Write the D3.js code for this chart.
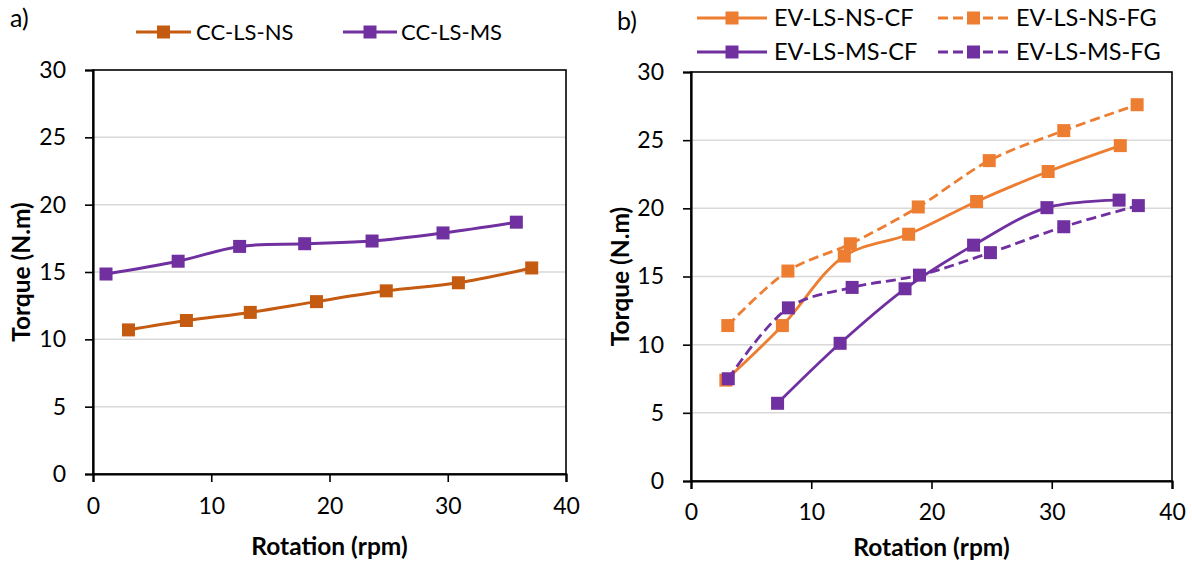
<!DOCTYPE html>
<html><head><meta charset="utf-8">
<script src="https://cdn.jsdelivr.net/npm/d3@7"></script>
<style>
html,body{margin:0;padding:0;background:#fff;}
svg{display:block;font-family:Lato,"Open Sans",sans-serif;}
</style></head>
<body>
<svg id="chart" width="1192" height="562"></svg>
<script>
// ---- data ----
const xTicks = [0, 10, 20, 30, 40];
const yTicks = [0, 5, 10, 15, 20, 25, 30];

// panel a)
const ccNS_x = [3.0, 7.9, 13.3, 18.9, 24.8, 30.9, 37.1];
const ccNS_y = [10.7, 11.4, 12.0, 12.8, 13.6, 14.2, 15.3];
const ccMS_x = [1.1, 7.2, 12.4, 17.9, 23.6, 29.6, 35.8];
const ccMS_y = [14.85, 15.8, 16.9, 17.1, 17.3, 17.9, 18.7];

// panel b)
const evNSCF_x = [2.9, 7.6, 12.75, 18.1, 23.75, 29.7, 35.7];
const evNSCF_y = [7.4, 11.4, 16.5, 18.1, 20.5, 22.7, 24.6];
const evNSFG_x = [3.06, 8.06, 13.25, 18.9, 24.8, 31.0, 37.1];
const evNSFG_y = [11.4, 15.4, 17.4, 20.1, 23.5, 25.7, 27.6];
const evMSCF_x = [7.2, 12.4, 17.8, 23.5, 29.6, 35.6];
const evMSCF_y = [5.7, 10.1, 14.1, 17.3, 20.05, 20.6];
const evMSFG_x = [3.1, 8.1, 13.4, 19.0, 24.9, 31.0, 37.2];
const evMSFG_y = [7.5, 12.7, 14.2, 15.1, 16.75, 18.65, 20.2];

const zip = (xs, ys) => xs.map((x, i) => ({x, y: ys[i]}));

const svg = d3.select("#chart");

function panel(cfg) {
  const x = d3.scaleLinear().domain([0, 40]).range([cfg.x0, cfg.x1]);
  const y = d3.scaleLinear().domain([0, 30]).range([cfg.y0, cfg.y1]);
  const g = svg.append("g");

  // gridlines
  g.selectAll("line.grid").data(yTicks.filter(d => d > 0 && d < 30)).enter()
    .append("line").attr("class", "grid")
    .attr("x1", cfg.x0).attr("x2", cfg.x1)
    .attr("y1", d => y(d)).attr("y2", d => y(d))
    .attr("stroke", "#D9D9D9").attr("stroke-width", 1.5);

  // border box
  g.append("rect").attr("x", cfg.x0).attr("y", cfg.y1)
    .attr("width", cfg.x1 - cfg.x0).attr("height", cfg.y0 - cfg.y1)
    .attr("fill", "none").attr("stroke", "#000").attr("stroke-width", 1.6);

  // axes
  const yAxis = d3.axisLeft(y).tickValues(yTicks).tickSize(8).tickPadding(19).tickFormat(d3.format("d"));
  const xAxis = d3.axisBottom(x).tickValues(xTicks).tickSize(8).tickPadding(cfg.xPad).tickFormat(d3.format("d"));
  const ya = g.append("g").attr("transform", `translate(${cfg.x0},0)`).call(yAxis);
  const xa = g.append("g").attr("transform", `translate(0,${cfg.y0})`).call(xAxis);
  [ya, xa].forEach(a => {
    a.select(".domain").attr("stroke", "#000").attr("stroke-width", 2.2);
    a.selectAll(".tick line").attr("stroke", "#000").attr("stroke-width", 1.6);
    a.selectAll(".tick text").attr("font-size", 23).attr("fill", "#000")
      .attr("font-family", "Lato, sans-serif");
  });

  // axis titles
  g.append("text").attr("x", (cfg.x0 + cfg.x1) / 2).attr("y", cfg.xTitleY)
    .attr("text-anchor", "middle").attr("font-size", 24.5).attr("font-weight", "bold")
    .text("Rotation (rpm)");
  g.append("text")
    .attr("transform", `translate(${cfg.yTitleX},${(cfg.y0 + cfg.y1) / 2}) rotate(-90)`)
    .attr("text-anchor", "middle").attr("font-size", 24.5).attr("font-weight", "bold")
    .text("Torque (N.m)");

  // panel label
  g.append("text").attr("x", cfg.labX).attr("y", cfg.labY).attr("font-size", 25).text(cfg.label);

  // series
  const line = d3.line().x(d => x(d.x)).y(d => y(d.y)).curve(d3.curveCatmullRom.alpha(0.5));
  cfg.series.forEach(s => {
    const data = zip(s.xs, s.ys);
    g.append("path").datum(data).attr("d", line).attr("fill", "none")
      .attr("stroke", s.color).attr("stroke-width", cfg.lw)
      .attr("stroke-dasharray", s.dash ? "10,5" : null);
    g.selectAll(null).data(data).enter().append("rect")
      .attr("x", d => x(d.x) - cfg.ms / 2).attr("y", d => y(d.y) - cfg.ms / 2)
      .attr("width", cfg.ms).attr("height", cfg.ms).attr("fill", s.color);
  });

  // legend
  cfg.legend.forEach((it, i) => {
    const s = cfg.series[i];
    const lg = g.append("g");
    lg.append("line").attr("x1", it.lx0).attr("x2", it.lx1).attr("y1", it.y).attr("y2", it.y)
      .attr("stroke", s.color).attr("stroke-width", cfg.lw)
      .attr("stroke-dasharray", s.dash ? "10,5" : null);
    const mx = (it.lx0 + it.lx1) / 2;
    lg.append("rect").attr("x", mx - 6.5).attr("y", it.y - 6.5).attr("width", 13).attr("height", 13)
      .attr("fill", s.color);
    lg.append("text").attr("x", it.tx).attr("y", it.y).attr("dy", "0.35em")
      .attr("font-size", cfg.legFs).text(s.name);
  });
}

panel({
  x0: 93, x1: 566, y0: 474, y1: 70, lw: 3, ms: 13, xPad: 16, legFs: 22,
  xTitleY: 555, yTitleX: 30, label: "a)", labX: 10, labY: 27,
  series: [
    {name: "CC-LS-NS", xs: ccNS_x, ys: ccNS_y, color: "#C55A11"},
    {name: "CC-LS-MS", xs: ccMS_x, ys: ccMS_y, color: "#7030A0"}
  ],
  legend: [
    {lx0: 136, lx1: 191, y: 32, tx: 196},
    {lx0: 343, lx1: 397, y: 32, tx: 401}
  ]
});

panel({
  x0: 691, x1: 1172, y0: 481, y1: 72, lw: 2.8, ms: 13, xPad: 15, legFs: 23.5,
  xTitleY: 556, yTitleX: 629, label: "b)", labX: 617, labY: 30,
  series: [
    {name: "EV-LS-NS-CF", xs: evNSCF_x, ys: evNSCF_y, color: "#ED7D31"},
    {name: "EV-LS-NS-FG", xs: evNSFG_x, ys: evNSFG_y, color: "#ED7D31", dash: true},
    {name: "EV-LS-MS-CF", xs: evMSCF_x, ys: evMSCF_y, color: "#7030A0"},
    {name: "EV-LS-MS-FG", xs: evMSFG_x, ys: evMSFG_y, color: "#7030A0", dash: true}
  ],
  legend: [
    {lx0: 697, lx1: 767, y: 18, tx: 774},
    {lx0: 938, lx1: 1009, y: 18, tx: 1016},
    {lx0: 697, lx1: 767, y: 52, tx: 774},
    {lx0: 938, lx1: 1009, y: 52, tx: 1016}
  ]
});
</script>
</body></html>
